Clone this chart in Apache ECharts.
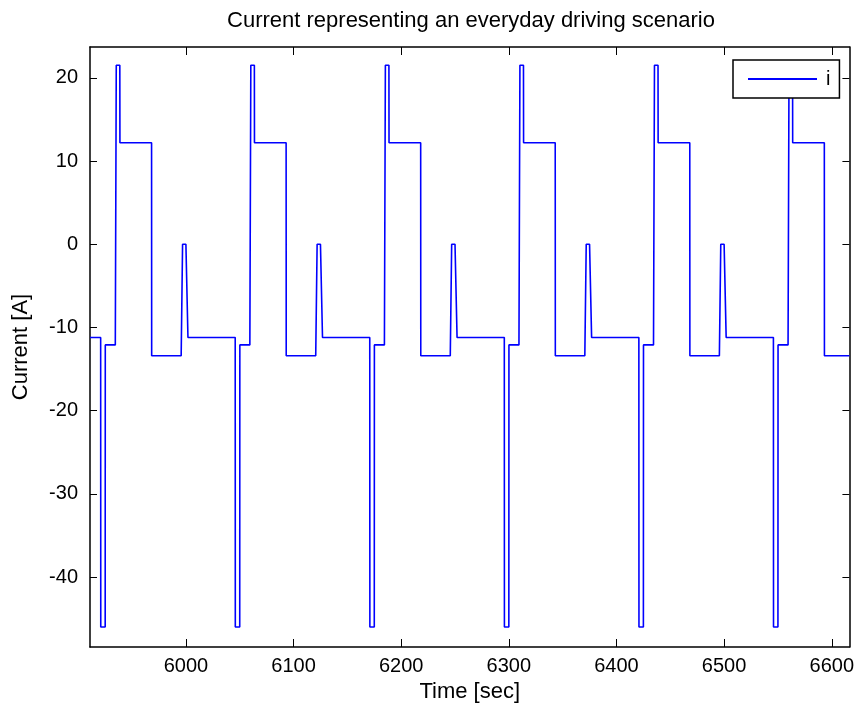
<!DOCTYPE html>
<html>
<head>
<meta charset="utf-8">
<script src="https://cdn.jsdelivr.net/npm/echarts@6/dist/echarts.min.js"></script>
<style>
html,body{margin:0;padding:0;background:#fff;}
#chart{width:857px;height:708px;}
</style>
</head>
<body>
<div id="chart"></div>
<script>
// Time [sec]
const timeSec = [
  5910.9, 5920.8, 5920.9, 5925.0, 5925.1, 5934.4, 5935.3, 5938.6, 5938.7, 5968.1, 5968.2, 5995.6, 5996.9, 6000.0, 6001.9,
  6045.8, 6045.9, 6050.0, 6050.1, 6059.4, 6060.3, 6063.6, 6063.7, 6093.1, 6093.2, 6120.6, 6121.9, 6125.0, 6126.9,
  6170.8, 6170.9, 6175.0, 6175.1, 6184.4, 6185.3, 6188.6, 6188.7, 6218.1, 6218.2, 6245.6, 6246.9, 6250.0, 6251.9,
  6295.8, 6295.9, 6300.0, 6300.1, 6309.4, 6310.3, 6313.6, 6313.7, 6343.1, 6343.2, 6370.6, 6371.9, 6375.0, 6376.9,
  6420.8, 6420.9, 6425.0, 6425.1, 6434.4, 6435.3, 6438.6, 6438.7, 6468.1, 6468.2, 6495.6, 6496.9, 6500.0, 6501.9,
  6545.8, 6545.9, 6550.0, 6550.1, 6559.4, 6560.3, 6563.6, 6563.7, 6593.1, 6593.2, 6616.4
];
// Current [A]
const currentA = [
  -11.2, -11.2, -46, -46, -12.1, -12.1, 21.5, 21.5, 12.2, 12.2, -13.4, -13.4, 0, 0, -11.2,
  -11.2, -46, -46, -12.1, -12.1, 21.5, 21.5, 12.2, 12.2, -13.4, -13.4, 0, 0, -11.2,
  -11.2, -46, -46, -12.1, -12.1, 21.5, 21.5, 12.2, 12.2, -13.4, -13.4, 0, 0, -11.2,
  -11.2, -46, -46, -12.1, -12.1, 21.5, 21.5, 12.2, 12.2, -13.4, -13.4, 0, 0, -11.2,
  -11.2, -46, -46, -12.1, -12.1, 21.5, 21.5, 12.2, 12.2, -13.4, -13.4, 0, 0, -11.2,
  -11.2, -46, -46, -12.1, -12.1, 21.5, 21.5, 12.2, 12.2, -13.4, -13.4
];
const xTicks = [6000, 6100, 6200, 6300, 6400, 6500, 6600];
const yTicks = [-40, -30, -20, -10, 0, 10, 20];
const xRange = [5910.9, 6616.4];
const yRange = [-48.4, 23.7];

const FONT = '"Liberation Sans", Arial, Helvetica, sans-serif';
const chart = echarts.init(document.getElementById('chart'), null, {renderer: 'canvas'});

function xAx(pos, showLabel) {
  return {
    type: 'value', position: pos, min: xRange[0], max: xRange[1],
    name: showLabel ? 'Time [sec]' : '', nameLocation: 'middle', nameGap: 32,
    nameTextStyle: {fontFamily: FONT, fontSize: 22, color: '#000'},
    axisLine: {show: true, onZero: false, lineStyle: {color: '#000', width: 1.5}},
    axisTick: {show: true, inside: true, length: 8, customValues: xTicks, lineStyle: {color: '#000', width: 1}},
    axisLabel: {show: showLabel, customValues: xTicks, margin: 9, fontFamily: FONT, fontSize: 20, color: '#000',
      formatter: v => String(Math.round(v))},
    splitLine: {show: false}
  };
}
function yAx(pos, showLabel) {
  return {
    type: 'value', position: pos, min: yRange[0], max: yRange[1],
    name: showLabel ? 'Current [A]' : '', nameLocation: 'middle', nameGap: 58, nameRotate: 90,
    nameTextStyle: {fontFamily: FONT, fontSize: 22, color: '#000'},
    axisLine: {show: true, onZero: false, lineStyle: {color: '#000', width: 1.5}},
    axisTick: {show: true, inside: true, length: 7, customValues: yTicks, lineStyle: {color: '#000', width: 1}},
    axisLabel: {show: showLabel, customValues: yTicks, margin: 12, fontFamily: FONT, fontSize: 20, color: '#000',
      formatter: v => String(Math.round(v))},
    splitLine: {show: false}
  };
}

chart.setOption({
  animation: false,
  backgroundColor: '#fff',
  title: {
    text: 'Current representing an everyday driving scenario',
    left: 466, textAlign: 'center', top: 5,
    textStyle: {fontFamily: FONT, fontSize: 22, fontWeight: 'normal', color: '#000'}
  },
  grid: {left: 90, right: 7, top: 47, bottom: 61, containLabel: false},
  legend: {
    data: ['i'], left: 733, top: 60,
    padding: [9, 9, 9, 15], itemGap: 0,
    itemWidth: 69, itemHeight: 2, icon: 'rect',
    backgroundColor: '#fff', borderColor: '#000', borderWidth: 1.5,
    textStyle: {fontFamily: FONT, fontSize: 20, color: '#000', padding: [0, 0, 0, 4]}
  },
  xAxis: [xAx('bottom', true), xAx('top', false)],
  yAxis: [yAx('left', true), yAx('right', false)],
  series: [{
    name: 'i', type: 'line', xAxisIndex: 0, yAxisIndex: 0,
    data: timeSec.map((t, k) => [t, currentA[k]]),
    symbol: 'none', showSymbol: false,
    lineStyle: {color: '#0000ff', width: 1.6},
    itemStyle: {color: '#0000ff'}
  }]
});
</script>
</body>
</html>
